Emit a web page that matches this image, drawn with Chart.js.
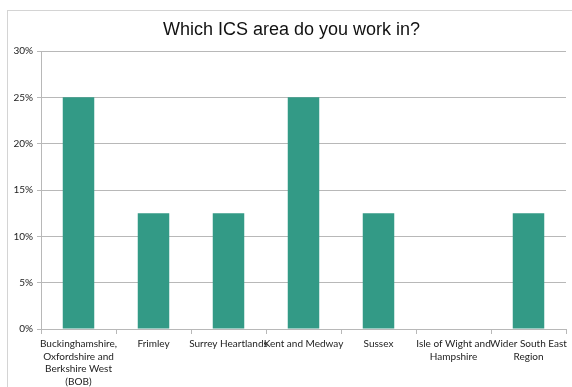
<!DOCTYPE html>
<html>
<head>
<meta charset="utf-8">
<script src="https://cdn.jsdelivr.net/npm/chart.js@4"></script>
<style>
  html, body { margin: 0; padding: 0; background: #fff; }
  #frame {
    position: absolute; left: 7px; top: 10px;
    width: 600px; height: 400px;
    border: 1px solid #d4d4d4;
  }
  #wrap { position: absolute; left: 0; top: 0; width: 572px; height: 387px; }
</style>
</head>
<body>
<div id="frame"></div>
<div id="wrap"><canvas id="chart" width="572" height="387"></canvas></div>
<script>
// ICS survey responses
const chartTitle = 'Which ICS area do you work in?';
const areas = [
  ['Buckinghamshire,', 'Oxfordshire and', 'Berkshire West', '(BOB)'],
  'Frimley',
  'Surrey Heartlands',
  'Kent and Medway',
  'Sussex',
  ['Isle of Wight and', 'Hampshire'],
  ['Wider South East', 'Region'],
];
const share = [25, 12.5, 12.5, 25, 12.5, 0, 12.5];
const yTicks = [0, 5, 10, 15, 20, 25, 30];

const tickFont = { family: 'Lato, "Open Sans", sans-serif', size: 10, lineHeight: 1.25 };

// title is centred on the outer frame, not on the canvas
const frameTitle = {
  id: 'frameTitle',
  afterDraw(chart) {
    const ctx = chart.ctx;
    ctx.save();
    ctx.fillStyle = '#111';
    ctx.font = '18px "Liberation Sans", Arial, sans-serif';
    ctx.textAlign = 'center';
    ctx.textBaseline = 'middle';
    ctx.fillText(chartTitle, 291.5, 30);
    ctx.restore();
  },
};

new Chart(document.getElementById('chart'), {
  type: 'bar',
  data: {
    labels: areas,
    datasets: [{
      data: share,
      backgroundColor: '#339a86',
      borderWidth: 0,
      barPercentage: 0.42,
      categoryPercentage: 1,
    }],
  },
  options: {
    responsive: false,
    animation: false,
    layout: { padding: { left: 0, right: 6, top: 51, bottom: 0 } },
    plugins: {
      legend: { display: false },
      tooltip: { enabled: false },
      title: { display: false },
    },
    scales: {
      x: {
        grid: { drawOnChartArea: false, color: '#b8b8b8', tickLength: 5, offset: true },
        border: { color: '#b8b8b8' },
        ticks: { color: '#222', font: tickFont, autoSkip: false, maxRotation: 0, padding: 4 },
        afterFit: (s) => { s.height = 58; },
      },
      y: {
        min: 0,
        max: 30,
        afterBuildTicks: (s) => { s.ticks = yTicks.map(v => ({ value: v })); },
        grid: { color: '#b8b8b8', tickLength: 4 },
        border: { color: '#b8b8b8' },
        ticks: { color: '#222', font: tickFont, padding: 4, callback: (v) => v + '%' },
        afterFit: (s) => { s.width = 41; },
      },
    },
  },
  plugins: [frameTitle],
});
</script>
</body>
</html>
